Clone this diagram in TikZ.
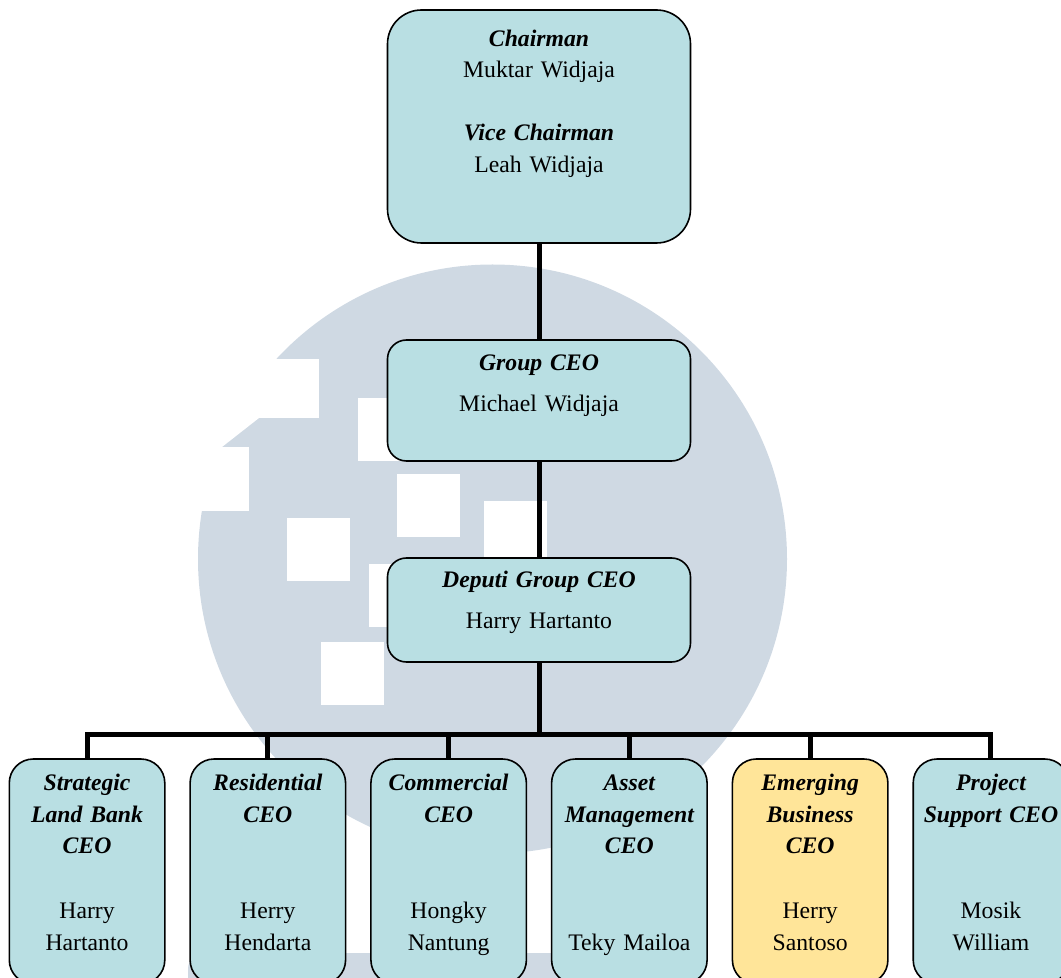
\documentclass[tikz,border=0pt]{standalone}
\usepackage{fontspec}
\setmainfont{Liberation Serif}
\usetikzlibrary{positioning}
\definecolor{boxcyan}{RGB}{185,223,227}
\definecolor{boxyellow}{RGB}{255,229,153}
\definecolor{logogray}{RGB}{207,217,227}

\begin{document}
\begin{tikzpicture}[x=0.5pt,y=-0.5pt,
  head/.style={draw,line width=0.8pt,fill=boxcyan,minimum width=151.5pt,inner sep=0pt,outer sep=0pt},
  unit/.style={draw,line width=0.8pt,fill=boxcyan,minimum width=77.75pt,minimum height=112.5pt,rounded corners=12pt,inner sep=0pt,outer sep=0pt},
  txt/.style={align=center,inner sep=0pt,font=\fontsize{11.85pt}{15.8pt}\selectfont},
  link/.style={line width=2.5pt}]

\useasboundingbox (0,0) rectangle (1061,978);
\clip (0,0) rectangle (1061,978);

% logo in the background
\fill[logogray] (492.5,559) circle[radius=147.25pt];
\fill[logogray,rounded corners=8pt] (188,953) rectangle (570,1010);
\fill[white] (150,359) rectangle (319,418);
\fill[white] (150,418) -- (259,418) -- (222,447) -- (150,447) -- cycle;
\fill[white] (150,447) rectangle (249,511);
\foreach \x/\y in {358/398,397/474,484/501,287/518,369/564,321/642}
  \fill[white] (\x,\y) rectangle ++(63,63);

\node[head,minimum height=116.5pt,rounded corners=17pt] (chair) at (539,126.5) {};
\node[head,minimum height=60.5pt,rounded corners=9.5pt,below=48.5pt of chair] (group) {};
\node[head,minimum height=52pt,rounded corners=9.5pt,below=48.5pt of group] (deputi) {};

\node[unit,below left=48.5pt and 6.3pt of deputi.south] (comm) {};
\node[unit,left=12.65pt of comm] (resid) {};
\node[unit,left=12.65pt of resid] (land) {};
\node[unit,below right=48.5pt and 6.3pt of deputi.south] (asset) {};
\node[unit,fill=boxyellow,right=12.65pt of asset] (emerg) {};
\node[unit,right=12.65pt of emerg] (proj) {};

\node[txt,text width=150pt,below=6.8pt of chair.north] (chairtxt) {\strut\textbf{\textit{Chairman}}\\Muktar Widjaja\\[15.8pt]\textbf{\textit{Vice Chairman}}\\Leah Widjaja};
\node[txt,text width=150pt,below=3.9pt of group.north] (grouptxt) {\strut\textbf{\textit{Group CEO}}\\[4.7pt]Michael Widjaja};
\node[txt,text width=150pt,below=3.4pt of deputi.north] (deputitxt) {\strut\textbf{\textit{Deputi Group CEO}}\\[4.7pt]Harry Hartanto};

\node[txt,text width=76pt,below=4.5pt of land.north] (landtxt) {\strut\textbf{\textit{Strategic\\Land Bank\\CEO}}\\[16.8pt]Harry\\Hartanto};
\node[txt,text width=76pt,below=4.5pt of resid.north] (residtxt) {\strut\textbf{\textit{Residential\\CEO}}\\[32.6pt]Herry\\Hendarta};
\node[txt,text width=76pt,below=4.5pt of comm.north] (commtxt) {\strut\textbf{\textit{Commercial\\CEO}}\\[32.6pt]Hongky\\Nantung};
\node[txt,text width=76pt,below=4.5pt of asset.north] (assettxt) {\strut\textbf{\textit{Asset\\Management\\CEO}}\\[32.6pt]Teky Mailoa};
\node[txt,text width=76pt,below=4.5pt of emerg.north] (emergtxt) {\strut\textbf{\textit{Emerging\\Business\\CEO}}\\[16.8pt]Herry\\Santoso};
\node[txt,text width=76pt,below=4.5pt of proj.north] (projtxt) {\strut\textbf{\textit{Project\\Support CEO}}\\[32.6pt]Mosik\\William};

\coordinate[above=12.25pt of comm.north] (bus);
\draw[link] (chair) -- (group);
\draw[link] (group) -- (deputi);
\draw[link] (deputi) -- (deputi.south |- bus);
\draw[link] (land.north) -- (land.north |- bus) -- (proj.north |- bus) -- (proj.north);
\foreach \b in {resid,comm,asset,emerg}
  \draw[link] (\b.north) -- (\b.north |- bus);

\end{tikzpicture}
\end{document}
